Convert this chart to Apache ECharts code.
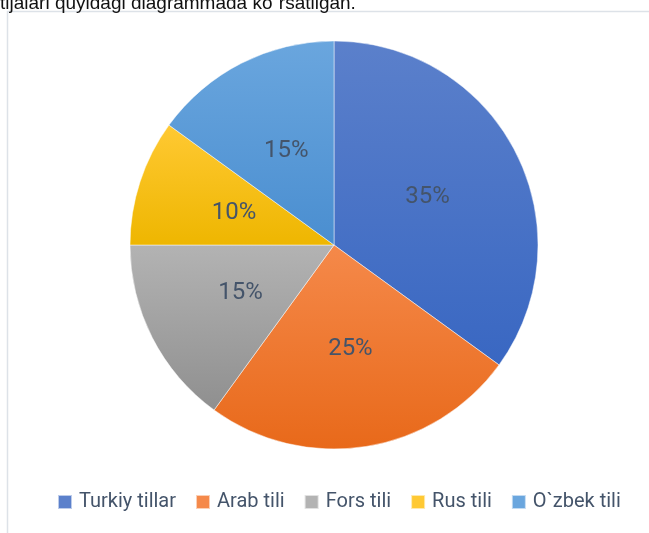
<!DOCTYPE html>
<html>
<head>
<meta charset="utf-8">
<script src="https://cdn.jsdelivr.net/npm/echarts@6/dist/echarts.min.js"></script>
<style>
  html, body { margin: 0; padding: 0; background: #fff; }
  #chart { width: 649px; height: 533px; }
</style>
</head>
<body>
<div id="chart"></div>
<script>
  // data
  var categories = ['Turkiy tillar', 'Arab tili', 'Fors tili', 'Rus tili', 'O`zbek tili']
  var shares = [35, 25, 15, 10, 15]
  var topColors = ['#5b80cb', '#f5894a', '#b3b3b3', '#ffc933', '#6aa6de']
  var bottomColors = ['#3967c2', '#e8691a', '#8f8f8f', '#eeb600', '#4a8ed0']
  var headline = 'tijalari quyidagi diagrammada ko`rsatilgan.'

  function grad(i) {
    return new echarts.graphic.LinearGradient(0, 0, 0, 1, [
      { offset: 0, color: topColors[i] },
      { offset: 1, color: bottomColors[i] }
    ])
  }

  var pieData = categories.map(function (name, i) {
    return { name: name, value: shares[i], itemStyle: { color: grad(i) } }
  })

  var dom = echarts.init(document.getElementById('chart'))
  dom.setOption({
    animation: false,
    color: topColors,
    graphic: [
      {
        type: 'rect',
        shape: { x: 7.5, y: 11.5, width: 700, height: 600 },
        style: { fill: 'none', stroke: '#dde2e8', lineWidth: 1.5 },
        silent: true
      },
      {
        type: 'text',
        left: 0,
        top: -6,
        style: {
          text: headline,
          fill: '#111',
          font: '19px "Liberation Sans", Arial, sans-serif'
        }
      }
    ],
    legend: {
      data: categories.map(function (name, i) {
        return { name: name, itemStyle: { color: topColors[i] } }
      }),
      bottom: 21,
      left: 57,
      padding: 0,
      icon: 'rect',
      itemWidth: 14,
      itemHeight: 14,
      itemGap: 19,
      textStyle: {
        color: '#44546a',
        fontSize: 20,
        fontFamily: 'Roboto',
        padding: [0, 0, 0, 2]
      }
    },
    series: [{
      type: 'pie',
      center: [334, 245],
      radius: [0, 204],
      startAngle: 90,
      clockwise: true,
      data: pieData,
      itemStyle: { borderColor: 'rgba(255,255,255,0.6)', borderWidth: 0.8 },
      label: {
        position: 'inside',
        formatter: '{c}%',
        color: '#44546a',
        fontSize: 24,
        fontFamily: 'Roboto',
        padding: [6, 0, 0, 0]
      },
      labelLine: { show: false },
      emphasis: { disabled: true }
    }]
  })
</script>
</body>
</html>
